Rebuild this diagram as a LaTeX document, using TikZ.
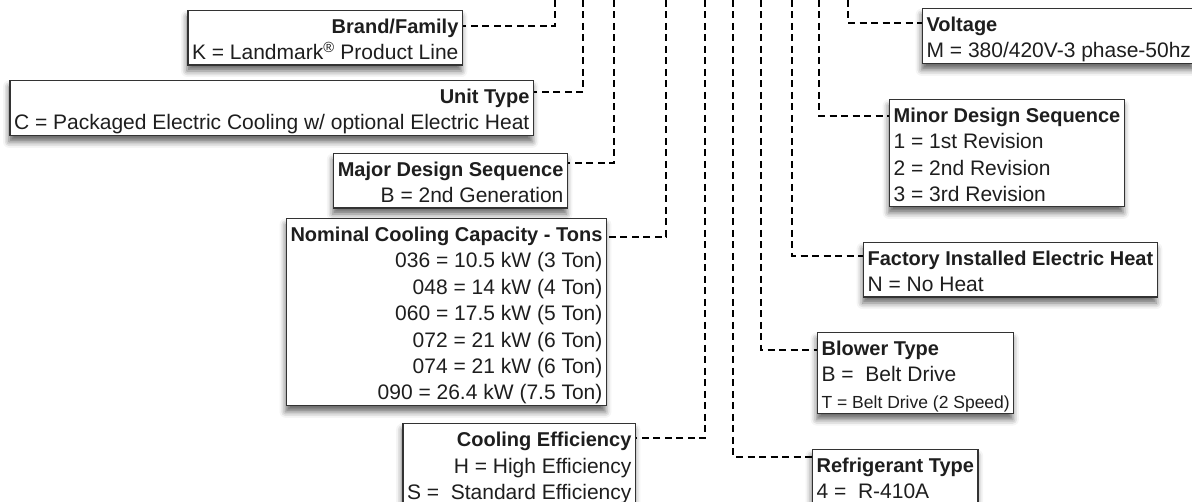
\documentclass[tikz,border=0pt]{standalone}
\usepackage{fontspec}
\setmainfont{Liberation Sans}
\usetikzlibrary{shadows.blur}
\definecolor{ink}{HTML}{1E1E1E}
\definecolor{edge}{HTML}{333333}
\newcommand\hd[1]{\rule{0pt}{21.5pt}{\fontsize{20}{26.4}\selectfont\bfseries #1}}
\newcommand\dn{\rule[-3.5pt]{0pt}{3.5pt}}
\tikzstyle{lbox}=[draw=edge,fill=white,line width=1.2pt,anchor=north east,align=right,inner xsep=4pt,inner ysep=1.5pt,font=\fontsize{21}{26.4}\selectfont,text=ink,execute at end node=\dn,blur shadow={shadow xshift=-1pt,shadow yshift=-6pt,shadow blur radius=6pt,shadow opacity=60}]
\tikzstyle{rbox}=[lbox,anchor=north west,align=left]
\tikzstyle{lead}=[draw=black,line width=2pt,dash pattern=on 7pt off 4.5pt]

\begin{document}
\begin{tikzpicture}[x=1pt,y=-1pt]
  \useasboundingbox (0,0) rectangle (1192,502);
  % left column
  \node[lbox] (brand) at (463,10) {\hd{Brand/Family}\\K = Landmark\textsuperscript{®} Product Line};
  \node[lbox] (unit) at (534,80) {\hd{Unit Type}\\C = Packaged Electric Cooling w/ optional Electric Heat};
  \node[lbox] (major) at (568,153) {\hd{Major Design Sequence}\\B = 2nd Generation};
  \node[lbox] (tons) at (607,218) {\hd{Nominal Cooling Capacity - Tons}\\036 = 10.5 kW (3 Ton)\\048 = 14 kW (4 Ton)\\060 = 17.5 kW (5 Ton)\\072 = 21 kW (6 Ton)\\074 = 21 kW (6 Ton)\\090 = 26.4 kW (7.5 Ton)};
  \node[lbox] (eff) at (636,423) {\hd{Cooling Efficiency}\\H = High Efficiency\\S = \ Standard Efficiency};
  % right column
  \node[rbox] (volt) at (922,8) {\hd{Voltage}\\M = 380/420V-3 phase-50hz};
  \node[rbox] (minor) at (889,99) {\hd{Minor Design Sequence}\\1 = 1st Revision\\2 = 2nd Revision\\3 = 3rd Revision};
  \node[rbox] (heat) at (863,242) {\hd{Factory Installed Electric Heat}\\N = No Heat};
  \node[rbox] (blower) at (817,332) {\hd{Blower Type}\\B = \ Belt Drive\\{\fontsize{17.5}{26.4}\selectfont T = Belt Drive (2 Speed)}};
  \node[rbox] (refrig) at (812,449) {\hd{Refrigerant Type}\\4 = \ R-410A};
  % leads from the model number above
  \coordinate (brand0) at (555,0);   \coordinate (brand1) at (555,26);
  \coordinate (unit0) at (583,0);    \coordinate (unit1) at (583,92);
  \coordinate (major0) at (614,0);   \coordinate (major1) at (614,163);
  \coordinate (tons0) at (666,0);    \coordinate (tons1) at (666,237);
  \coordinate (eff0) at (705,0);     \coordinate (eff1) at (705,438);
  \coordinate (refrig0) at (733,0);  \coordinate (refrig1) at (733,457);
  \coordinate (blower0) at (761,0);  \coordinate (blower1) at (761,350);
  \coordinate (heat0) at (792,0);    \coordinate (heat1) at (792,256);
  \coordinate (minor0) at (819,0);   \coordinate (minor1) at (819,116);
  \coordinate (volt0) at (848,0);    \coordinate (volt1) at (848,23);
  \foreach \n/\s in {brand/east,unit/east,major/east,tons/east,eff/east,refrig/west,blower/west,heat/west,minor/west,volt/west}
    \draw[lead] (\n0) -- (\n1) -- (\n1 -| \n.\s);
\end{tikzpicture}
\end{document}
